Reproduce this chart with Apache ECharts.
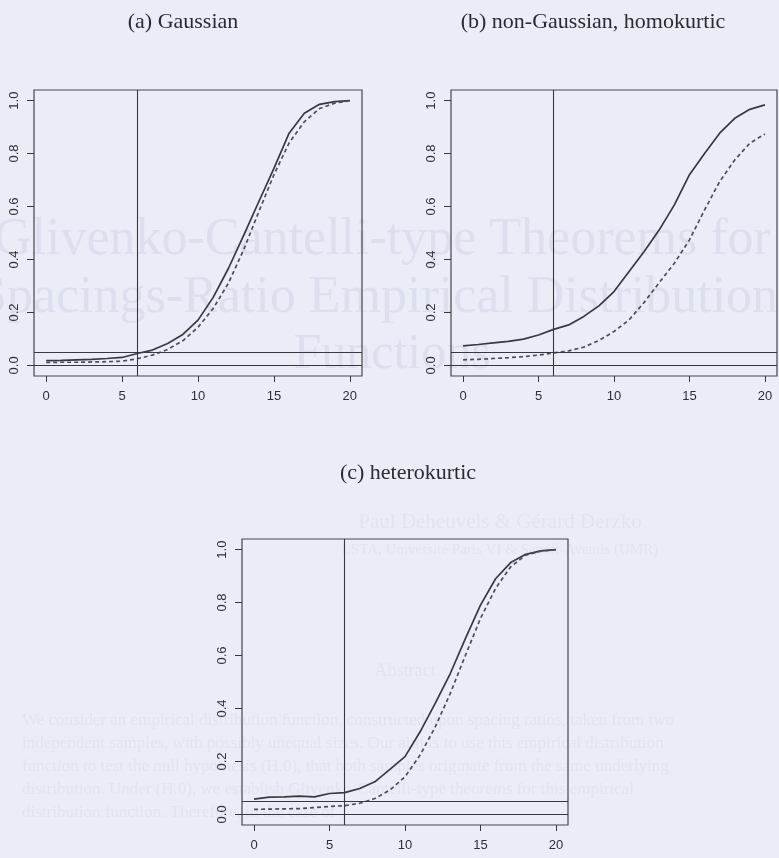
<!DOCTYPE html>
<html>
<head>
<meta charset="utf-8">
<script src="https://cdn.jsdelivr.net/npm/echarts@6/dist/echarts.min.js"></script>
<style>
  html, body { margin: 0; padding: 0; background: #eaecf8; }
  #chart { width: 779px; height: 858px; }
</style>
</head>
<body>
<div id="chart"></div>
<script>
// ---- data ----
const xValues = [0,1,2,3,4,5,6,7,8,9,10,11,12,13,14,15,16,17,18,19,20];

const gaussSolid  = [0.018,0.019,0.021,0.023,0.026,0.030,0.045,0.058,0.083,0.117,0.171,0.257,0.366,0.490,0.618,0.744,0.877,0.952,0.986,0.996,1.000];
const gaussDashed = [0.011,0.012,0.012,0.013,0.014,0.016,0.025,0.039,0.060,0.093,0.144,0.215,0.310,0.436,0.580,0.720,0.840,0.920,0.970,0.990,1.000];

const homoSolid   = [0.074,0.079,0.085,0.091,0.099,0.115,0.136,0.153,0.185,0.225,0.279,0.355,0.430,0.512,0.606,0.720,0.800,0.877,0.933,0.967,0.984];
const homoDashed  = [0.021,0.023,0.026,0.029,0.033,0.039,0.047,0.055,0.069,0.094,0.128,0.172,0.238,0.313,0.386,0.474,0.587,0.694,0.776,0.839,0.874];

const heteroSolid  = [0.058,0.065,0.066,0.069,0.066,0.079,0.082,0.098,0.123,0.170,0.218,0.312,0.419,0.532,0.664,0.790,0.890,0.951,0.982,0.995,1.000];
const heteroDashed = [0.019,0.020,0.021,0.022,0.026,0.030,0.033,0.042,0.060,0.092,0.142,0.224,0.330,0.457,0.600,0.740,0.853,0.935,0.979,0.994,1.000];

const panelTitles = ['(a) Gaussian', '(b) non-Gaussian, homokurtic', '(c) heterokurtic'];
const xTicks = [0,5,10,15,20];
const yTicks = [0,0.2,0.4,0.6,0.8,1.0];
const refLevels = [0, 0.05];
const refX = 6;

// faint show-through text of the scanned page
const ghostBig = ['Glivenko-Cantelli-type Theorems for', 'Spacings-Ratio Empirical Distribution', 'Functions'];
const ghostSmall = [
  'Paul Deheuvels & Gérard Derzko',
  'LSTA, Université Paris VI & Sanofi-Aventis (UMR)',
  'Abstract',
  'We consider an empirical distribution function, constructed upon spacing ratios, taken from two',
  'independent samples, with possibly unequal sizes. Our aim is to use this empirical distribution',
  'function to test the null hypothesis (H.0), that both samples originate from the same underlying',
  'distribution. Under (H.0), we establish Glivenko-Cantelli-type theorems for this empirical',
  'distribution function. Therefore, in the case of'
];

// ---- chart ----
const ink = '#36363c';
const ghostColor = '#dcdfee';
const ghostFaint = '#e1e3f1';
const panels = [
  {title: panelTitles[0], solid: gaussSolid,  dashed: gaussDashed,  grid: {left: 34,  top: 90,  width: 328, height: 286}, tx: 178, ty: 6},
  {title: panelTitles[1], solid: homoSolid,   dashed: homoDashed,   grid: {left: 451, top: 90,  width: 326, height: 286}, tx: 588, ty: 6},
  {title: panelTitles[2], solid: heteroSolid, dashed: heteroDashed, grid: {left: 242, top: 539, width: 326, height: 286}, tx: 403, ty: 457}
];

const pairs = arr => xValues.map((x, i) => [x, arr[i]]);

const ghostGraphics = [
  {type: 'text', x: -6, y: 214, z: -10, silent: true, style: {text: ghostBig[0], font: '52px "Liberation Serif"', fill: ghostColor}},
  {type: 'text', x: -22, y: 272, z: -10, silent: true, style: {text: ghostBig[1], font: '52px "Liberation Serif"', fill: ghostColor}},
  {type: 'text', x: 392, y: 330, z: -10, silent: true, style: {text: ghostBig[2], font: '50px "Liberation Serif"', fill: ghostColor, align: 'center'}},
  {type: 'text', x: 500, y: 512, z: -10, silent: true, style: {text: ghostSmall[0], font: '21px "Liberation Serif"', fill: ghostFaint, align: 'center'}},
  {type: 'text', x: 500, y: 543, z: -10, silent: true, style: {text: ghostSmall[1], font: '15px "Liberation Serif"', fill: ghostFaint, align: 'center'}},
  {type: 'text', x: 405, y: 662, z: -10, silent: true, style: {text: ghostSmall[2], font: '18px "Liberation Serif"', fill: ghostFaint, align: 'center'}}
].concat(ghostSmall.slice(3).map((t, k) => (
  {type: 'text', x: 22, y: 712 + k * 23, z: -10, silent: true, style: {text: t, font: '17px "Liberation Serif"', fill: ghostFaint}}
)));

const option = {
  backgroundColor: '#eaecf8',
  animation: false,
  graphic: ghostGraphics,
  title: panels.map(p => ({
    text: p.title, left: p.tx, top: p.ty, textAlign: 'center',
    textStyle: {fontFamily: 'Liberation Serif', fontSize: 22, fontWeight: 'normal', color: '#2a2a30'}
  })),
  grid: panels.map(p => Object.assign({show: true, borderColor: '#45454b', borderWidth: 1.2, backgroundColor: 'transparent', containLabel: false}, p.grid)),
  xAxis: panels.map((p, i) => ({
    type: 'value', gridIndex: i, min: -0.8, max: 20.8,
    axisLine: {show: false, onZero: false},
    splitLine: {show: false},
    axisTick: {show: true, length: 6, lineStyle: {color: ink, width: 1}, customValues: xTicks},
    axisLabel: {customValues: xTicks, margin: 14, color: '#2e2e34', fontFamily: 'Liberation Sans', fontSize: 13}
  })),
  yAxis: panels.map((p, i) => ({
    type: 'value', gridIndex: i, min: -0.04, max: 1.04,
    axisLine: {show: false, onZero: false},
    splitLine: {show: false},
    axisTick: {show: true, length: 7, lineStyle: {color: ink, width: 1}, customValues: yTicks},
    axisLabel: {customValues: yTicks, rotate: 90, margin: 13, color: '#2e2e34', fontFamily: 'Liberation Sans', fontSize: 13,
      formatter: v => v.toFixed(1)}
  })),
  series: panels.flatMap((p, i) => [
    {
      type: 'line', xAxisIndex: i, yAxisIndex: i, data: pairs(p.solid),
      showSymbol: false, smooth: false, silent: true,
      lineStyle: {color: '#38383f', width: 1.7, type: 'solid'},
      markLine: {
        silent: true, symbol: 'none', label: {show: false},
        lineStyle: {color: '#38383f', width: 1.1, type: 'solid'},
        data: [{yAxis: refLevels[0]}, {yAxis: refLevels[1]}, {xAxis: refX}]
      }
    },
    {
      type: 'line', xAxisIndex: i, yAxisIndex: i, data: pairs(p.dashed),
      showSymbol: false, smooth: false, silent: true,
      lineStyle: {color: '#4e4e57', width: 1.7, type: [4, 3]}
    }
  ])
};

const chart = echarts.init(document.getElementById('chart'), null, {renderer: 'canvas'});
chart.setOption(option);
</script>
</body>
</html>
